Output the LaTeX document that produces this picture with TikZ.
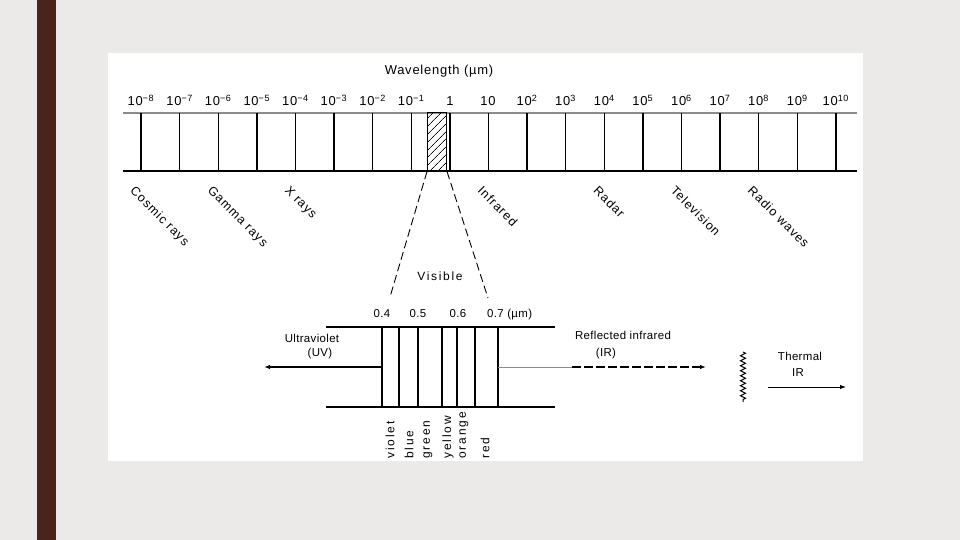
\documentclass[tikz,border=0pt]{standalone}
\usepackage{fontspec}
\setmainfont{Liberation Sans}
\usepackage{tikz}
\usetikzlibrary{arrows.meta, patterns.meta, decorations.pathmorphing}
\definecolor{slidebg}{RGB}{235,234,232}
\definecolor{slidebar}{RGB}{74,35,26}
\definecolor{scangray}{RGB}{140,140,140}
\tikzset{
  toplbl/.style={inner sep=0pt, anchor=base, font=\fontsize{13}{15}\selectfont\addfontfeature{LetterSpace=6}},
  bandlbl/.style={inner sep=0pt, anchor=north west, rotate=-45, font=\fontsize{12.5}{14}\selectfont\addfontfeature{LetterSpace=8}},
  lowlbl/.style={inner sep=0pt, anchor=base, font=\fontsize{11.5}{13}\selectfont\addfontfeature{LetterSpace=3}},
  colourlbl/.style={inner sep=0pt, anchor=west, rotate=90, font=\fontsize{12}{14}\selectfont\addfontfeature{LetterSpace=16}},
  tickline/.style={line width=1.4bp},
  zoomline/.style={dash pattern=on 8bp off 4bp, line width=0.9bp},
  arrowed/.style={-{Latex[length=6bp,width=4.5bp]}},
}

\begin{document}
\begin{tikzpicture}[x=1bp, y=-1bp]
  % Slide - grey page, brown band, white scan
  \fill[slidebg] (0,0) rectangle (960,540);
  \useasboundingbox (0,0) rectangle (960,540);
  \fill[slidebar] (37,0) rectangle (56,540);
  \fill[white] (108,53) rectangle (863,461);
  % Wavelength scale - rails and ticks
  \node[toplbl] (wavelength) at (439,75) {Wavelength (µm)};
  \draw[scangray, line width=2bp] (123,113) -- (857,113);
  \draw[line width=1.8bp] (123,171) -- (857,171);
  \foreach \k in {0,...,18} {
    \draw[tickline] (141+38.6*\k,113) -- (141+38.6*\k,171);
  }
  % Tick labels
  \foreach \e [count=\k from 0] in {−8,−7,−6,−5,−4,−3,−2,−1} {
    \node[toplbl] (exp\k) at (141+38.6*\k,106) {10\textsuperscript{\e}};
  }
  \node[toplbl] (exp8) at (450,106) {1};
  \node[toplbl] (exp9) at (488,106) {10};
  \foreach \e [count=\k from 10] in {2,...,10} {
    \node[toplbl] (exp\k) at (141+38.6*\k,106) {10\textsuperscript{\e}};
  }
  % Visible window - hatched
  \node[draw, line width=1bp, pattern={Lines[angle=45,distance=6bp,line width=1bp]},
        minimum width=19bp, minimum height=58bp, inner sep=0pt] (visband) at (437,142) {};
  % Region names
  \foreach \k/\name in {0/Cosmic rays, 2/Gamma rays, 4/X rays, 9/Infrared, 12/Radar, 14/Television, 16/Radio waves} {
    \node[bandlbl] (band\k) at (136+38.6*\k,185) {\name};
  }
  % Zoom onto the visible part
  \coordinate (vis04) at (390,297);
  \coordinate (vis07) at (488,298);
  \draw[zoomline] (visband.south west) -- (vis04);
  \draw[zoomline] (visband.south east) -- (vis07);
  \node[lowlbl, font=\fontsize{12}{14}\selectfont\addfontfeature{LetterSpace=14}] (visible) at (440,281) {Visible};
  % Visible scale
  \foreach \x/\v [count=\i] in {382/0.4, 418/0.5, 458/0.6} {
    \node[lowlbl] (um\i) at (\x,318) {\v};
  }
  \node[lowlbl, anchor=base west] (um4) at (487,318) {0.7 (µm)};
  \draw[line width=1.5bp] (326,327) -- (555,327);
  \draw[line width=1.5bp] (326,407) -- (555,407);
  \draw[line width=2bp] (382,327) -- (382,407);
  \foreach \x in {399,418,442,457,475,498} {
    \draw[line width=1.4bp] (\x,327) -- (\x,407);
  }
  % Colour names
  \foreach \x/\c in {390/violet, 409/blue, 428/green, 448/yellow, 464/orange, 485/red} {
    \node[colourlbl] (col\c) at (\x,459) {\c};
  }
  % Ultraviolet
  \coordinate (uvfrom) at (381,367);
  \coordinate (uvto) at (264,367);
  \draw[arrowed, line width=1.2bp] (uvfrom) -- (uvto);
  \node[lowlbl] (uv1) at (312,343) {Ultraviolet};
  \node[lowlbl] (uv2) at (320,357) {(UV)};
  % Reflected infrared
  \coordinate (irfrom) at (498,367);
  \coordinate (irmid) at (572,367);
  \coordinate (irto) at (706,367);
  \draw[scangray, line width=1bp] (irfrom) -- (irmid);
  \draw[arrowed, dash pattern=on 9bp off 3bp, line width=1.2bp] (irmid) -- (irto);
  \node[lowlbl] (refl1) at (623,340) {Reflected infrared};
  \node[lowlbl] (refl2) at (606,357) {(IR)};
  % Thermal infrared
  \draw[decorate, decoration={zigzag, segment length=5bp, amplitude=2.5bp}, line width=1bp] (743,352) -- (743,402);
  \coordinate (thfrom) at (768,387);
  \coordinate (thto) at (846,387);
  \draw[arrowed, line width=1bp] (thfrom) -- (thto);
  \node[lowlbl] (th1) at (800,361) {Thermal};
  \node[lowlbl] (th2) at (798,377) {IR};
\end{tikzpicture}
\end{document}
